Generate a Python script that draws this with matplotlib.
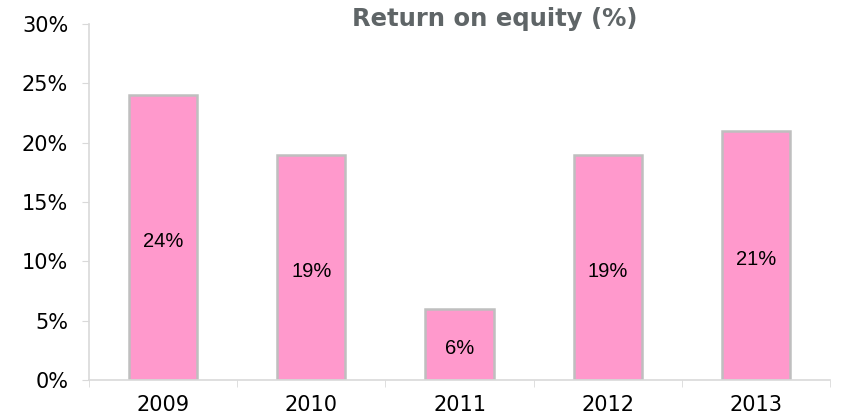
import matplotlib.pyplot as plt
import numpy as np

years = ['2009', '2010', '2011', '2012', '2013']
roe = [24, 19, 6, 19, 21]
y_ticks = [0, 5, 10, 15, 20, 25, 30]

fig = plt.figure(figsize=(8.42, 4.2), dpi=100)
ax = fig.add_axes([89 / 842, 1 - 380 / 420, 741 / 842, 356 / 420])

x = np.arange(len(years))
bars = ax.bar(x, roe, width=0.46, color='#ff99cc', edgecolor='#bfbfbf', linewidth=1.8)

for xi, v in zip(x, roe):
    ax.annotate(f'{v}%', (xi, v / 2), xytext=(0, -3), textcoords='offset points',
                ha='center', va='center', fontsize=14.5, family='Liberation Sans',
                color='black')

ax.set_xlim(-0.5, len(years) - 0.5)
ax.set_ylim(0, 30)
ax.set_yticks(y_ticks)
ax.set_yticklabels([f'{t}%' for t in y_ticks], fontsize=15, family='DejaVu Sans')
ax.set_xticks(x)
ax.set_xticklabels(years, fontsize=15, family='DejaVu Sans')
ax.set_xticks(np.arange(-0.5, len(years)), minor=True)
ax.tick_params(axis='x', which='major', length=0, pad=11)
ax.tick_params(axis='x', which='minor', length=5, color='#d9d9d9', direction='out')
ax.tick_params(axis='y', length=5, color='#d9d9d9', pad=10)

for s in ['top', 'right']:
    ax.spines[s].set_visible(False)
for s in ['left', 'bottom']:
    ax.spines[s].set_color('#d9d9d9')
    ax.spines[s].set_linewidth(1.2)

fig.text(495 / 842, 1 - 19 / 420, 'Return on equity (%)', ha='center', va='center',
         fontsize=17.5, fontweight='bold', color='#5f6567', family='DejaVu Sans')

fig.savefig('out.png', dpi=100)
